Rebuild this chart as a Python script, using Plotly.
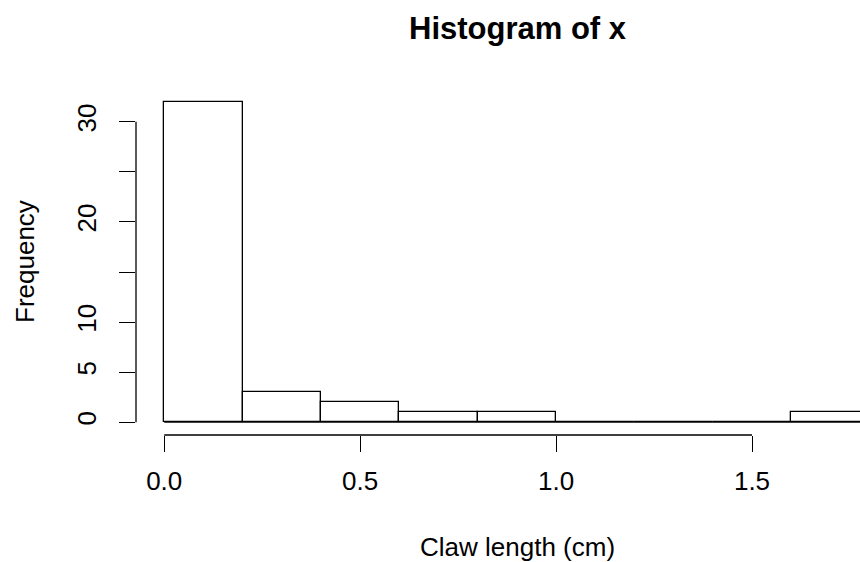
import plotly.graph_objects as go

# Data
breaks = [0.0, 0.2, 0.4, 0.6, 0.8, 1.0, 1.2, 1.4, 1.6, 1.8]
counts = [32, 3, 2, 1, 1, 0, 0, 0, 1]
x_ticks = [0.0, 0.5, 1.0, 1.5]
x_tick_labels = ["0.0", "0.5", "1.0", "1.5"]
y_ticks = [0, 5, 10, 15, 20, 25, 30]
y_tick_labels = ["0", "5", "10", "", "20", "", "30"]

centers = [(a + b) / 2 for a, b in zip(breaks[:-1], breaks[1:])]
widths = [b - a for a, b in zip(breaks[:-1], breaks[1:])]

FONT = "Liberation Sans, Arial, Helvetica, sans-serif"
LW = 1.3
BASE = 26
L, R, T, B = 136, 0, 89, 127
PW, PH = 860 - L - R, 562 - T - B


def px_x(px):
    return (px - L) / PW


def px_y(py):
    return (562 - B - py) / PH


fig = go.Figure()
fig.add_trace(go.Bar(
    x=centers, y=counts, width=widths, base=0,
    marker=dict(color="white", line=dict(color="black", width=LW)),
    hoverinfo="x+y", showlegend=False,
))
# baseline (zero-height bins are drawn as a line by R)
fig.add_trace(go.Scatter(
    x=[breaks[0], breaks[-1]], y=[0, 0], mode="lines",
    line=dict(color="black", width=LW), showlegend=False, hoverinfo="skip",
))

fig.update_layout(
    width=860, height=562,
    margin=dict(l=L, r=R, t=T, b=B),
    plot_bgcolor="white", paper_bgcolor="white",
    font=dict(family=FONT, size=BASE, color="black"),
    bargap=0,
    xaxis=dict(
        range=[-0.072, 1.7756], tickmode="array", tickvals=x_ticks, ticktext=x_tick_labels,
        ticks="outside", ticklen=16, tickwidth=LW, tickcolor="black",
        showgrid=False, zeroline=False, showline=False, automargin=False,
        tickfont=dict(size=BASE), ticklabelstandoff=7,
    ),
    yaxis=dict(
        range=[-1.28, 33.28], tickmode="array", tickvals=y_ticks, ticktext=y_tick_labels,
        ticks="outside", ticklen=16, tickwidth=LW, tickcolor="black",
        showgrid=False, zeroline=False, showline=False, tickangle=-90, automargin=False,
        tickfont=dict(size=BASE), ticklabelstandoff=13,
    ),
    shapes=[
        dict(type="line", xref="x", yref="paper", x0=x_ticks[0], x1=x_ticks[-1], y0=0, y1=0,
             line=dict(color="black", width=LW)),
        dict(type="line", xref="paper", yref="y", x0=0, x1=0, y0=y_ticks[0], y1=y_ticks[-1],
             line=dict(color="black", width=LW)),
    ],
    annotations=[
        dict(text="<b>Histogram of x</b>", xref="paper", yref="paper", x=px_x(518),
             y=px_y(29), xanchor="center", yanchor="middle", showarrow=False,
             font=dict(size=31)),
        dict(text="Claw length (cm)", xref="paper", yref="paper", x=px_x(517),
             y=px_y(547), xanchor="center", yanchor="middle", showarrow=False,
             font=dict(size=BASE)),
        dict(text="Frequency", xref="paper", yref="paper", x=px_x(25),
             y=0.5, xanchor="center", yanchor="middle", showarrow=False, textangle=-90,
             font=dict(size=BASE)),
    ],
)

fig.write_html(
    "out.html",
    config={"displayModeBar": False},
    post_script="document.body.style.margin='0px';document.body.style.overflow='hidden';",
)
